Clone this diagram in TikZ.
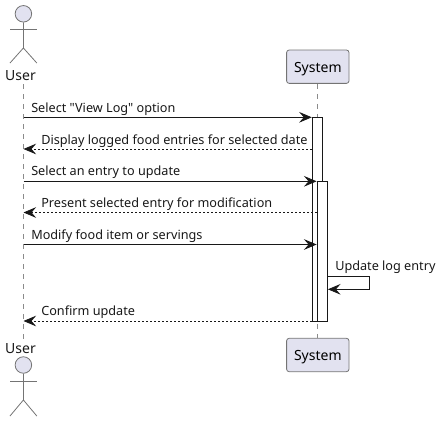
\documentclass[tikz,border=0pt]{standalone}
\usepackage{fontspec}
\newfontfamily\labelfont{Noto Sans}
\usetikzlibrary{arrows.meta}
\definecolor{partfill}{HTML}{E2E2F0}
\definecolor{partline}{HTML}{181818}
\tikzset{
  partbox/.style={draw=partline!60, fill=partfill, rounded corners=1.9pt, line width=0.6pt, minimum width=46.8pt, inner sep=0pt, text height=16.7pt, text depth=8.3pt, font=\labelfont\fontsize{10.5}{12}\selectfont},
  actorhead/.style={circle, draw=partline!60, fill=partfill, line width=0.6pt, minimum size=12.4pt, inner sep=0pt},
  actorline/.style={draw=partline!60, line width=0.6pt},
  lifeline/.style={draw=partline!50, line width=0.5pt, dash pattern=on 3.75pt off 3.75pt},
  actbar/.style={draw=partline, fill=white, line width=0.6pt, minimum width=7.5pt, inner sep=0pt},
  msgline/.style={draw=partline, line width=0.6pt, -{Stealth[length=9.5pt, width=8pt, inset=3.5pt]}},
  msgback/.style={msgline, dash pattern=on 1.5pt off 1.5pt},
  msgtext/.style={anchor=base west, inner sep=0pt, font=\labelfont\fontsize{9.5}{11}\selectfont, text=partline},
  actortext/.style={inner sep=0pt, font=\labelfont\fontsize{10.5}{12}\selectfont, text=partline}
}
\begin{document}
\begin{tikzpicture}[x=0.75pt, y=-0.75pt]
\useasboundingbox (0,0) rectangle (442,421);
% lifelines
\node[actortext, anchor=base] (usertop) at (20.5,80) {User};
\node[actortext, anchor=base] (userbot) at (20.5,353.4) {User};
\node[partbox] (systop) at (317.8,66.7) {System};
\node[partbox] (sysbot) at (317.8,355) {System};
\coordinate (lifetop) at (23.5,84);
\coordinate (lifebot) at (23.5,339);
\draw[lifeline] (lifetop) -- (lifebot);
\draw[lifeline] (systop.south) -- (sysbot.north);
% activation bars
\node[actbar, anchor=north, minimum height=152.7pt] (actone) at (317.6,117.3) {};
\node[actbar, anchor=north, minimum height=104.8pt] (acttwo) at (322.6,181.3) {};
% actors
\node[actorhead] (headtop) at (23.4,13.8) {};
\node[actorhead] (headbot) at (23.4,365) {};
\coordinate (hiptop) at (23.4,48);
\coordinate (hipbot) at (23.4,400);
\draw[actorline] (headtop.south) -- (hiptop) -- +(-13.4,15) (hiptop) -- +(13.4,15);
\draw[actorline] (10,29) -- (36.8,29);
\draw[actorline] (headbot.south) -- (hipbot) -- +(-13.4,16) (hipbot) -- +(13.4,16);
\draw[actorline] (10,381) -- (36.8,381);
% messages
\foreach \nm/\yy in {a/117.3, b/149, c/181.3, d/212.5, e/244.5, f/321} {
  \coordinate (left\nm) at (23.5,\yy);
  \coordinate (right\nm) at (311.8,\yy);
}
\coordinate (rightc) at (316.6,181.3);
\coordinate (righte) at (316.6,244.5);
\coordinate (rightd) at (316.8,212.5);
\draw[msgline] (lefta) -- (righta);
\draw[msgback] (rightb) -- (leftb);
\draw[msgline] (leftc) -- (rightc);
\draw[msgback] (rightd) -- (leftd);
\draw[msgline] (lefte) -- (righte);
\draw[msgback] (rightf) -- (leftf);
\coordinate (selfa) at (327.6,276.3);
\coordinate (selfb) at (327.9,289.3);
\draw[msgline] (selfa) -- (369.3,276.3) -- (369.3,289.3) -- (selfb);
% labels
\node[msgtext] (txta) at (31,112) {Select "View Log" option};
\node[msgtext] (txtb) at (41,144) {Display logged food entries for selected date};
\node[msgtext] (txtc) at (31,175.5) {Select an entry to update};
\node[msgtext] (txtd) at (41,207) {Present selected entry for modification};
\node[msgtext] (txte) at (31,239) {Modify food item or servings};
\node[msgtext] (txtf) at (335,270) {Update log entry};
\node[msgtext] (txtg) at (41,315) {Confirm update};
\end{tikzpicture}
\end{document}
